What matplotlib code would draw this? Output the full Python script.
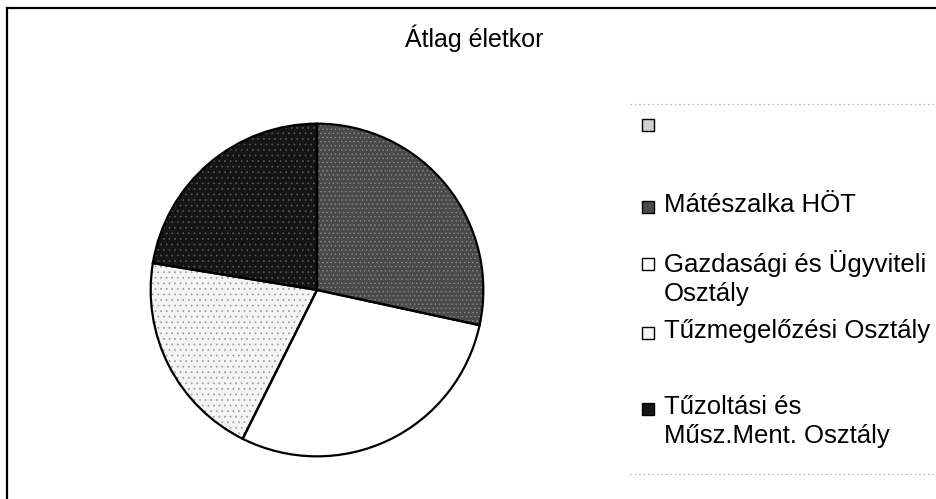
import matplotlib.pyplot as plt
from matplotlib.patches import Rectangle
from matplotlib.lines import Line2D

# Adatok (átlag életkor osztályonként)
cimkek = ['', 'Mátészalka HÖT', 'Gazdasági és Ügyviteli\nOsztály',
          'Tűzmegelőzési Osztály', 'Tűzoltási és\nMűsz.Ment. Osztály']
ertekek = [0.0, 38.5, 39.3, 27.4, 30.4]

szinek = ['#d0d0d0', '#4a4a4a', '#ffffff', '#f4f4f4', '#151515']
minta_szin = ['#777777', '#8a8a8a', '#ffffff', '#9a9a9a', '#5a5a5a']
mintak = ['....', '....', None, '...', '...']

plt.rcParams['font.family'] = ['Liberation Sans', 'DejaVu Sans']
plt.rcParams['hatch.linewidth'] = 0.5

W, H = 936, 499
fig = plt.figure(figsize=(W / 100, H / 100), dpi=100)

# Külső keret (csak bal és felső él látszik)
fig.add_artist(Line2D([7 / W, 1], [1 - 8 / H, 1 - 8 / H], color='black', lw=1.6))
fig.add_artist(Line2D([7 / W, 7 / W], [0, 1 - 8 / H], color='black', lw=1.6))

# Kördiagram: először a kitöltés mintával, utána a fekete körvonalak
cx, cy, r = 317, 290, 168
ax = fig.add_axes([(cx - r) / W, (H - cy - r) / H, 2 * r / W, 2 * r / H])
wedges, _ = ax.pie(ertekek, colors=szinek, startangle=90, counterclock=False,
                   wedgeprops=dict(linewidth=0))
for w, m, hc in zip(wedges, mintak, minta_szin):
    if m:
        w.set_hatch(m)
        w.set_edgecolor(hc)
        w.set_linewidth(0)
ax.pie(ertekek, colors=['none'] * len(ertekek), startangle=90, counterclock=False,
       wedgeprops=dict(edgecolor='black', linewidth=1.6, facecolor='none'))
ax.set_xlim(-1.01, 1.01)
ax.set_ylim(-1.01, 1.01)
ax.set_aspect('equal')
ax.axis('off')

fig.text(474 / W, 1 - 38 / H, 'Átlag életkor', ha='center', va='center', fontsize=18)

# Jelmagyarázat (kézzel elhelyezve, Excel-szerűen)
fig.add_artist(Line2D([630 / W, 1], [1 - 104 / H] * 2, color='#999999', lw=0.8, ls=(0, (1, 3))))
fig.add_artist(Line2D([630 / W, 1], [1 - 474 / H] * 2, color='#999999', lw=0.8, ls=(0, (1, 3))))

leg_y = [125, 207, 264, 333, 409]
for y, lab, c, m, hc in zip(leg_y, cimkek, szinek, mintak, minta_szin):
    fig.add_artist(Rectangle(((648 - 6) / W, 1 - (y + 6) / H), 12 / W, 12 / H,
                             facecolor=c, edgecolor='black', lw=1.0,
                             transform=fig.transFigure))
    if lab:
        fig.text(664 / W, 1 - (y - 14) / H, lab, ha='left', va='top',
                 fontsize=18.5, linespacing=1.25)

fig.savefig('out.png', dpi=100)
